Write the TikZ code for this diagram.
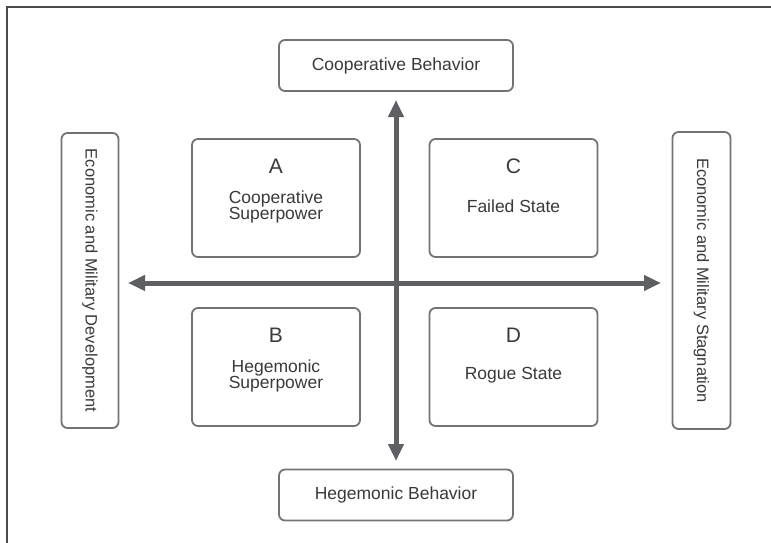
\documentclass[tikz,border=0pt]{standalone}
\usepackage{fontspec}
\setmainfont{Liberation Sans}
\usetikzlibrary{arrows.meta}
\definecolor{boxgray}{HTML}{727377}
\definecolor{axisgray}{HTML}{5E5F62}
\definecolor{txtgray}{HTML}{3A3A3C}
\definecolor{framegray}{HTML}{4A4A4A}
\tikzset{
  rbox/.style={draw=boxgray, line width=1.8pt, rounded corners=6pt, fill=white, inner sep=0pt, text=txtgray, align=center},
  axtext/.style={font=\fontsize{17.5}{19}\selectfont},
  sidetext/.style={font=\fontsize{16.5}{18}\selectfont},
  quad/.style={rbox, minimum width=168pt, minimum height=118pt},
  lbl/.style={text=txtgray, font=\fontsize{17.5}{16.5}\selectfont, align=center, inner sep=0pt},
  letter/.style={text=txtgray, font=\fontsize{21}{23}\selectfont, inner sep=0pt},
  axis/.style={draw=axisgray, line width=5pt, {Triangle[length=17pt,width=15pt]}-{Triangle[length=17pt,width=15pt]}},
  frame/.style={draw=framegray, line width=1.6pt}
}
\begin{document}
\begin{tikzpicture}[x=1pt,y=-1pt]
\useasboundingbox (0,0) rectangle (771,543);
\coordinate (fl) at (7,543);
\coordinate (fc) at (7,7);
\coordinate (fr) at (771,7);
\draw[frame] (fl) -- (fc) -- (fr);
% axis boxes
\node[rbox, axtext, minimum width=234pt, minimum height=51pt] (top) at (396,65.5) {Cooperative Behavior};
\node[rbox, axtext, minimum width=234pt, minimum height=51pt] (bot) at (396,495) {Hegemonic Behavior};
\node[rbox, sidetext, rotate=-90, minimum width=295pt, minimum height=57pt] (lft) at (90,280.5) {Economic and Military Development};
\node[rbox, sidetext, rotate=-90, minimum width=297pt, minimum height=58pt] (rgt) at (701.5,280.5) {Economic and Military Stagnation};
% quadrants
\node[quad] (qa) at (276,198) {};
\node[quad] (qc) at (513.5,198) {};
\node[quad] (qb) at (276,367) {};
\node[quad] (qd) at (513.5,367) {};
\node[letter] (la) at (276,166) {A};
\node[lbl] (ta) at (276,207) {Cooperative\\Superpower};
\node[letter] (lc) at (513.5,166) {C};
\node[lbl] (tc) at (513.5,206) {Failed State};
\node[letter] (lb) at (276,335) {B};
\node[lbl] (tb) at (276,376) {Hegemonic\\Superpower};
\node[letter] (ld) at (513.5,335) {D};
\node[lbl] (td) at (513.5,375) {Rogue State};
% axes
\coordinate (an) at (396,100);
\coordinate (as) at (396,461);
\coordinate (aw) at (128,283);
\coordinate (ae) at (661,283);
\draw[axis] (as) -- (an);
\draw[axis] (aw) -- (ae);
\end{tikzpicture}
\end{document}
